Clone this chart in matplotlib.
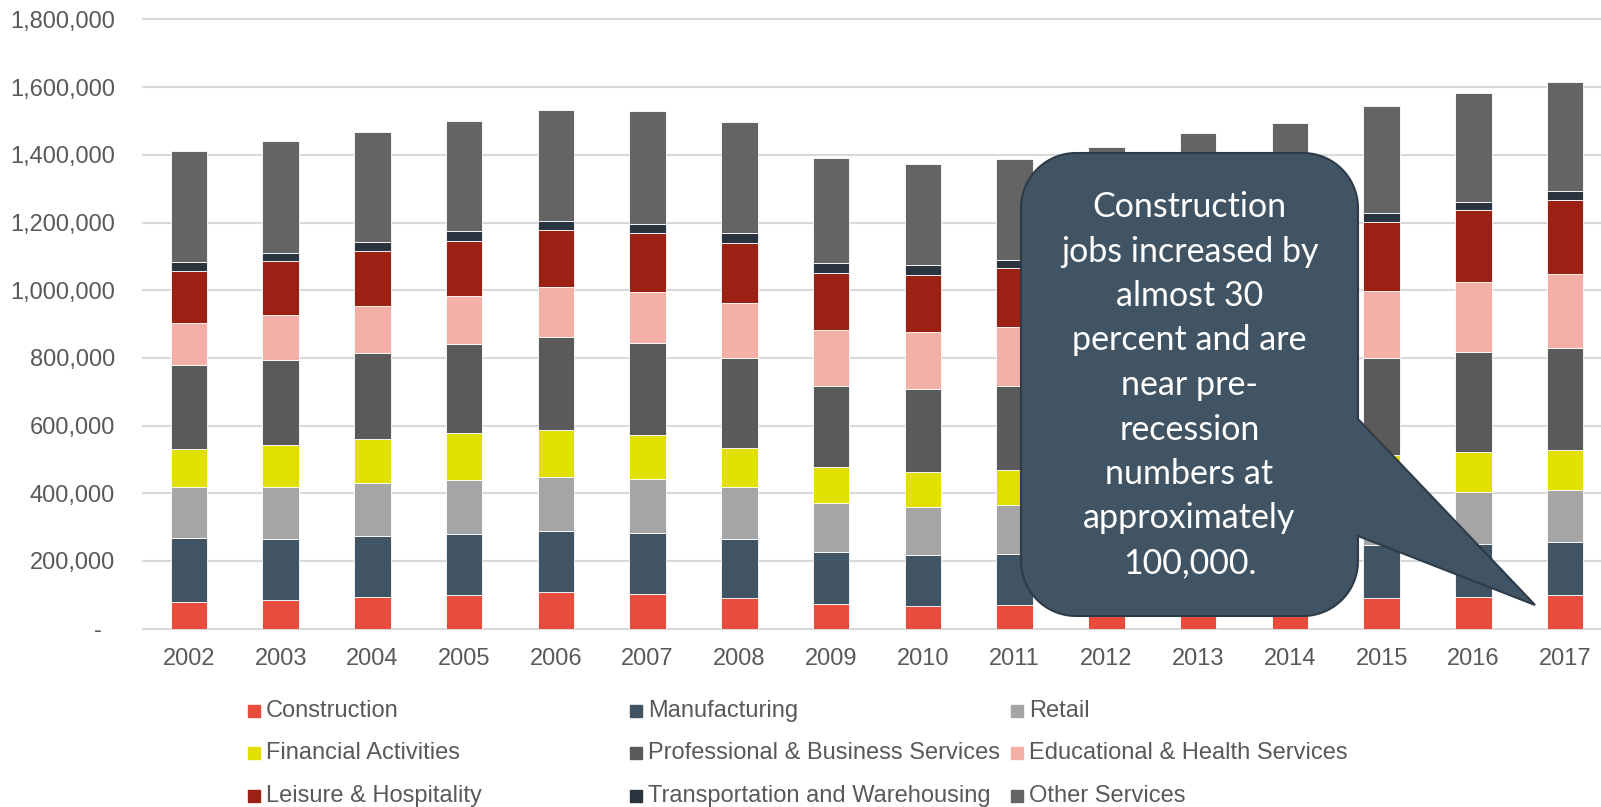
import numpy as np
import matplotlib
matplotlib.use("Agg")
import matplotlib.pyplot as plt
from matplotlib.path import Path
from matplotlib.patches import PathPatch, Rectangle

# data (jobs; 2012-2014 partly hidden behind the callout)
years = ['2002', '2003', '2004', '2005', '2006', '2007', '2008', '2009',
         '2010', '2011', '2012', '2013', '2014', '2015', '2016', '2017']

construction  = [79, 84, 93, 100, 108, 102, 91, 73, 68, 69, 72, 78, 83, 90, 95, 100]
manufacturing = [190, 182, 182, 181, 181, 181, 174, 155, 149, 153, 150, 152, 154, 158, 156, 156]
retail        = [151, 153, 154, 158, 160, 159, 155, 144, 142, 143, 145, 147, 148, 150, 152, 155]
financial     = [111, 123, 132, 138, 139, 129, 115, 105, 104, 105, 106, 108, 110, 116, 119, 118]
professional  = [248, 252, 254, 264, 274, 273, 266, 241, 245, 248, 260, 268, 278, 286, 295, 301]
educational   = [123, 132, 138, 141, 147, 152, 162, 164, 169, 173, 182, 188, 192, 199, 208, 217]
leisure       = [154, 160, 162, 163, 168, 172, 175, 169, 169, 174, 181, 188, 196, 203, 211, 218]
transport     = [28, 25, 28, 31, 28, 29, 31, 28, 27, 24, 25, 26, 26, 26, 26, 28]
other         = [328, 329, 324, 324, 326, 331, 327, 311, 300, 300, 302, 308, 308, 316, 321, 322]

series_names = ['Construction', 'Manufacturing', 'Retail', 'Financial Activities',
                'Professional & Business Services', 'Educational & Health Services',
                'Leisure & Hospitality', 'Transportation and Warehousing', 'Other Services']
series = [construction, manufacturing, retail, financial, professional,
          educational, leisure, transport, other]
colors = ['#E84C3D', '#415464', '#A5A5A5', '#E1E000', '#5A5A5A',
          '#F4AFA6', '#9A2113', '#29343E', '#646464']

yticks = [0, 200000, 400000, 600000, 800000, 1000000, 1200000, 1400000, 1600000, 1800000]
ytick_labels = ['-  ', '200,000', '400,000', '600,000', '800,000', '1,000,000',
                '1,200,000', '1,400,000', '1,600,000', '1,800,000']

callout_lines = ['Construction', 'jobs increased by', 'almost 30', 'percent and are',
                 'near pre-', 'recession', 'numbers at', 'approximately', '100,000.']

W, H = 1601, 807
txt_color = '#595959'
plt.rcParams['font.family'] = ['Liberation Sans', 'DejaVu Sans']

fig = plt.figure(figsize=(W / 100, H / 100), dpi=100)
# plot area runs a little past the right edge of the image, as in the original
ax = fig.add_axes([143 / W, (H - 628.7) / H, 1468 / W, (628.7 - 19.4) / H])

x = np.arange(len(years))
bottom = np.zeros(len(years))
for name, vals, c in zip(series_names, series, colors):
    v = np.array(vals) * 1000.0
    ax.bar(x, v, 0.4, bottom=bottom, color=c, edgecolor='white', linewidth=0.6, zorder=3)
    bottom += v

ax.set_xlim(-0.5, len(years) - 0.5)
ax.set_ylim(0, 1800000)
ax.set_yticks(yticks)
ax.set_yticklabels(ytick_labels)
ax.set_xticks(x)
ax.set_xticklabels(years)
ax.yaxis.grid(True, color='#d9d9d9', linewidth=1.5, zorder=0)
ax.set_axisbelow(True)
for s in ax.spines.values():
    s.set_visible(False)
ax.tick_params(axis='both', length=0, labelsize=17, labelcolor=txt_color)
ax.tick_params(axis='y', pad=20)
ax.tick_params(axis='x', pad=14)
for t in ax.get_ygridlines():
    t.set_clip_on(False)

# legend laid out in Excel style: 3 equal columns, filled row by row
col_x = [248, 630, 1011]
row_y = [711, 753, 796]
for i, (name, c) in enumerate(zip(series_names, colors)):
    cx = col_x[i % 3]
    cy = row_y[i // 3]
    fig.add_artist(Rectangle((cx / W, (H - cy - 6) / H), 12 / W, 12 / H,
                             transform=fig.transFigure, color=c))
    fig.text((cx + 18) / W, (H - cy) / H, name, fontsize=17, color=txt_color,
             ha='left', va='center')

# speech-bubble callout
left, right, top, bot, r = 1021, 1358, 153, 616, 55
ptr_a, ptr_b, tip = 419, 536, (1535, 605)

def arc(cx, cy, a0, a1):
    t = np.linspace(np.radians(a0), np.radians(a1), 20)
    return [(cx + r * np.cos(t_), cy - r * np.sin(t_)) for t_ in t]

pts = []
pts += arc(left + r, top + r, 180, 90)
pts += arc(right - r, top + r, 90, 0)
pts += [(right, ptr_a), tip, (right, ptr_b)]
pts += arc(right - r, bot - r, 0, -90)
pts += arc(left + r, bot - r, -90, -180)
pts.append(pts[0])
verts = [(px / W, (H - py) / H) for px, py in pts]
path = Path(verts)
fig.add_artist(PathPatch(path, transform=fig.transFigure, facecolor='#415464',
                         edgecolor='#2C3B47', linewidth=1.5, zorder=5))

line_y = [207, 251.5, 296, 340.5, 385, 429.5, 474, 518.5, 563]
for line, ly in zip(callout_lines, line_y):
    fig.text((left + right) / 2 / W, (H - ly) / H, line, fontsize=24.5, color='white',
             ha='center', va='center', family=['Lato', 'DejaVu Sans'], zorder=6)

fig.savefig('out.png', dpi=100)
